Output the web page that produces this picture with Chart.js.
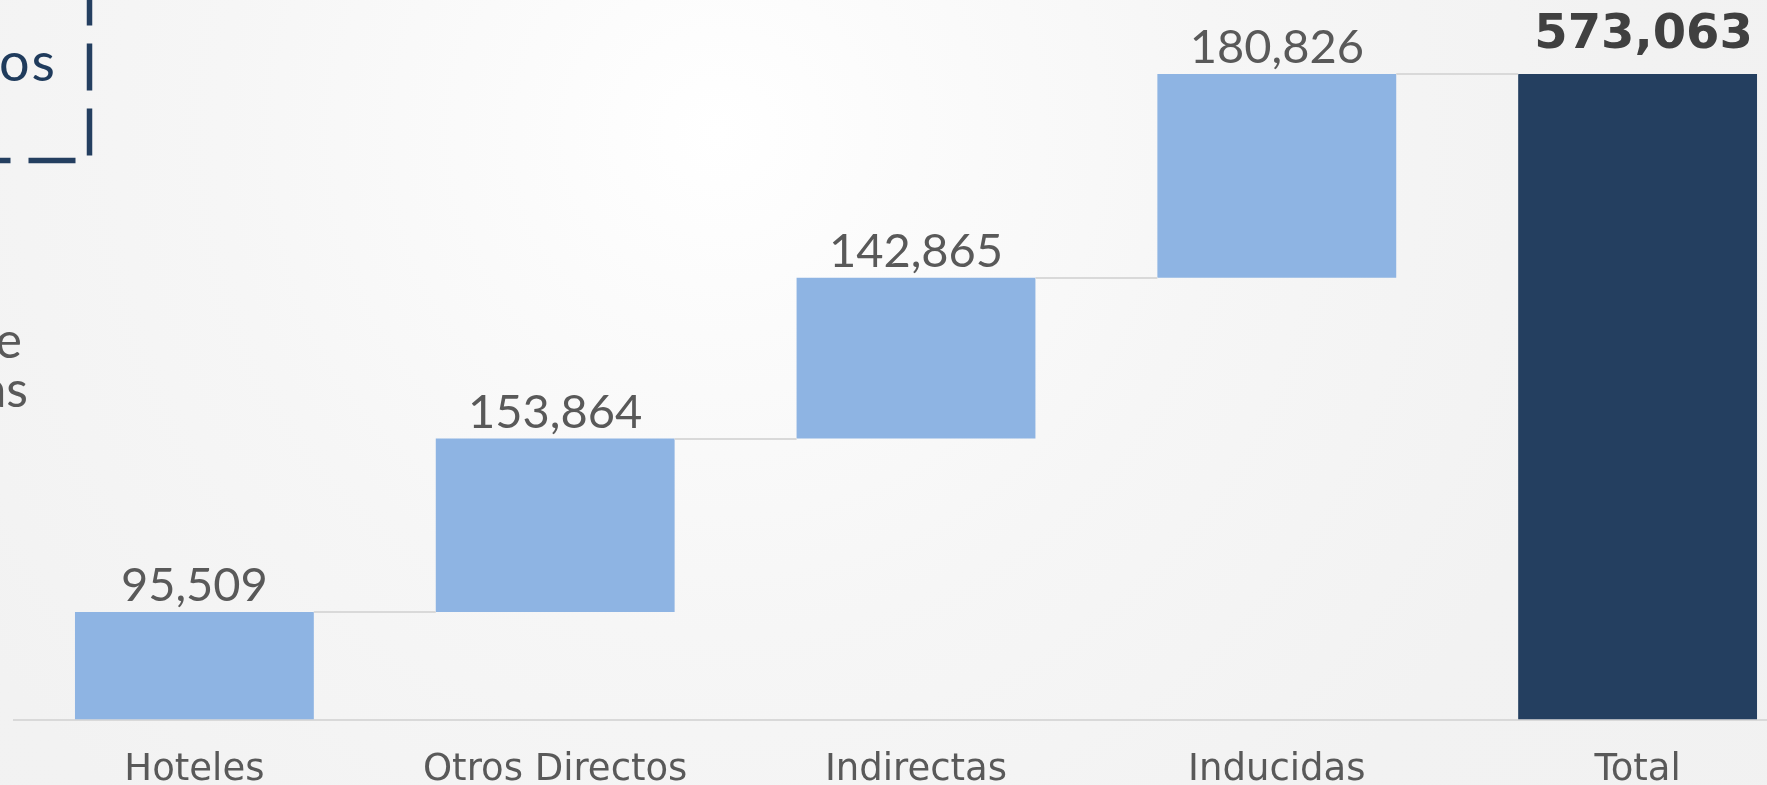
<!DOCTYPE html>
<html>
<head>
<meta charset="utf-8">
<script src="https://cdn.jsdelivr.net/npm/chart.js@4.4.1/dist/chart.umd.min.js"></script>
<style>
  html, body { margin:0; padding:0; width:1767px; height:785px; overflow:hidden; }
  body {
    background: radial-gradient(circle at 719px 133px, #ffffff 0px, #fbfbfb 200px, #f6f6f6 500px, #f2f2f2 900px, #f1f1f1 1400px);
    position: relative;
  }
  #wrap { position:absolute; left:0; top:0; width:1818px; height:818px; }
  .frag { position:absolute; font-family: Lato, "Open Sans", sans-serif; white-space:nowrap; text-align:right; }
</style>
</head>
<body>
<svg width="120" height="200" style="position:absolute;left:0;top:0">
  <path d="M89.5,160.5 V-100" stroke="#243f60" stroke-width="5.5" fill="none" stroke-dasharray="47 18" stroke-dashoffset="60"/>
  <path d="M89.5,160.5 H-100" stroke="#243f60" stroke-width="5.5" fill="none" stroke-dasharray="47 18" stroke-dashoffset="51"/>
</svg>
<div class="frag" style="left:-443px;width:500px;top:30px;font-size:54px;color:#1f3b5c;line-height:62px;letter-spacing:2px;">dos</div>
<div class="frag" style="left:-478px;width:500px;top:314px;font-size:50px;color:#595959;line-height:50px;">e</div>
<div class="frag" style="left:-472px;width:500px;top:363px;font-size:50px;color:#595959;line-height:50px;">as</div>
<div id="wrap"><canvas id="c"></canvas></div>
<script>
const categories = ['Hoteles', 'Otros Directos', 'Indirectas', 'Inducidas', 'Total'];
const increments = [95509, 153864, 142865, 180826];
const totalValue = 573063;
const valueLabels = ['95,509', '153,864', '142,865', '180,826', '573,063'];
const barColors = ['#8eb4e3', '#8eb4e3', '#8eb4e3', '#8eb4e3', '#243f60'];

// floating ranges for the waterfall
const ranges = [];
let run = 0;
increments.forEach(v => { ranges.push([run, run + v]); run += v; });
ranges.push([0, totalValue]);

const connectorPlugin = {
  id: 'connectors',
  afterDatasetsDraw(chart) {
    const meta = chart.getDatasetMeta(0);
    const ys = chart.scales.y;
    const ctx = chart.ctx;
    ctx.save();
    ctx.strokeStyle = '#d9d9d9';
    ctx.lineWidth = 2;
    for (let i = 0; i < meta.data.length - 1; i++) {
      const a = meta.data[i], b = meta.data[i + 1];
      const y = Math.round(ys.getPixelForValue(ranges[i][1]));
      ctx.beginPath();
      ctx.moveTo(a.x + a.width / 2, y);
      ctx.lineTo(b.x - b.width / 2, y);
      ctx.stroke();
    }
    ctx.restore();
  }
};

const labelPlugin = {
  id: 'valueLabels',
  afterDatasetsDraw(chart) {
    const meta = chart.getDatasetMeta(0);
    const ys = chart.scales.y;
    const ctx = chart.ctx;
    ctx.save();
    ctx.textAlign = 'center';
    ctx.textBaseline = 'alphabetic';
    meta.data.forEach((bar, i) => {
      const top = ys.getPixelForValue(ranges[i][1]);
      const isTotal = i === meta.data.length - 1;
      if (isTotal) {
        ctx.font = 'bold 48px "DejaVu Sans", Lato, sans-serif';
        ctx.fillStyle = '#404040';
        ctx.fillText(valueLabels[i], bar.x + 6, top - 26);
      } else {
        ctx.font = '47px Lato, "Open Sans", sans-serif';
        ctx.fillStyle = '#595959';
        ctx.fillText(valueLabels[i], bar.x, top - 11);
      }
    });
    ctx.restore();
  }
};

new Chart(document.getElementById('c'), {
  type: 'bar',
  data: {
    labels: categories,
    datasets: [{
      data: ranges,
      backgroundColor: barColors,
      borderWidth: 0,
      categoryPercentage: 1,
      barPercentage: 0.662
    }]
  },
  options: {
    responsive: true,
    maintainAspectRatio: false,
    devicePixelRatio: 1,
    animation: false,
    layout: { padding: { left: 14, right: 0, top: 21, bottom: 4 } },
    plugins: { legend: { display: false }, tooltip: { enabled: false } },
    scales: {
      x: {
        grid: { display: false },
        border: { display: true, color: '#d9d9d9', width: 2 },
        ticks: {
          color: '#595959',
          padding: 21,
          font: { family: '"DejaVu Sans", Lato, sans-serif', size: 37, lineHeight: 1.2 }
        }
      },
      y: {
        display: false,
        min: 0,
        max: 620000
      }
    }
  },
  plugins: [connectorPlugin, labelPlugin]
});
</script>
</body>
</html>
